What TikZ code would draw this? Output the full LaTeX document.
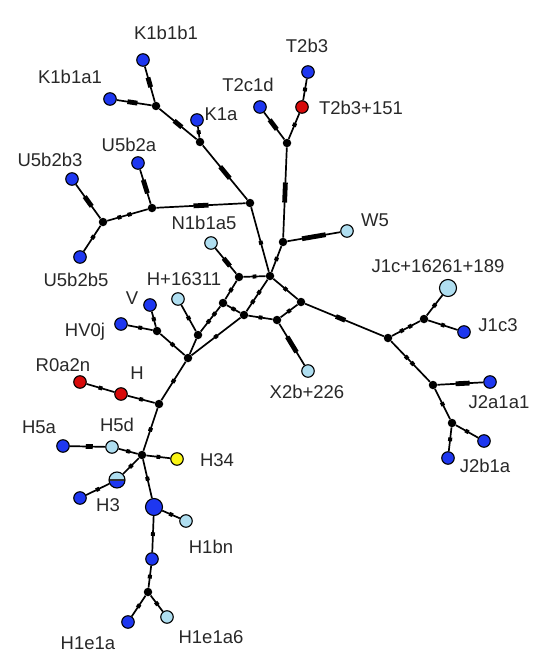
\documentclass[tikz,border=0pt]{standalone}
\usepackage{fontspec}
\setmainfont{Liberation Sans}
\definecolor{hblue}{RGB}{30,55,240}
\definecolor{hlight}{RGB}{175,222,240}
\definecolor{hred}{RGB}{215,10,10}
\definecolor{hyellow}{RGB}{250,245,20}
\definecolor{ltext}{RGB}{40,40,40}
\tikzset{
  hap/.style={circle, draw=black, line width=1.1pt, minimum size=12.5pt, inner sep=0pt},
  bl/.style={hap, fill=hblue},
  lb/.style={hap, fill=hlight},
  rd/.style={hap, fill=hred},
  yl/.style={hap, fill=hyellow},
  bigger/.style={minimum size=17pt},
  mv/.style={circle, fill=black, minimum size=8.5pt, inner sep=0pt},
  lbl/.style={font=\fontsize{18.5}{21}\selectfont, text=ltext, inner sep=0pt},
  edge/.style={line width=1.7pt},
  tk/.style={sloped, fill=black, inner sep=0pt, minimum width=3.8pt, minimum height=4pt},
  cl/.style={sloped, fill=black, inner sep=0pt, minimum width=#1, minimum height=4.8pt},
}
\begin{document}
\begin{tikzpicture}[x=1pt,y=-1pt]
\useasboundingbox (0,0) rectangle (533,666);
% haplotype nodes
\node[bl] (k1b1b1) at (143,60) {};
\node[bl] (k1b1a1) at (110,99) {};
\node[bl] (k1a) at (197,120) {};
\node[bl] (u5b2a) at (138,163) {};
\node[bl] (u5b2b3) at (72,179) {};
\node[bl] (u5b2b5) at (80,257) {};
\node[bl] (t2c1d) at (260,107) {};
\node[bl] (t2b3) at (308,72) {};
\node[rd] (t2b3x) at (302,107) {};
\node[lb] (w5) at (347,231) {};
\node[lb] (n1b1a5) at (211,243) {};
\node[lb] (h16311) at (178,299) {};
\node[bl] (v) at (150,305) {};
\node[bl] (hv0j) at (121,324) {};
\node[rd] (r0a2n) at (80,382) {};
\node[rd] (h) at (121,394) {};
\node[lb] (x2b) at (308,371) {};
\node[lb, bigger] (j1cx) at (448,288) {};
\node[bl] (j1c3) at (464,332) {};
\node[bl] (j2a1a1) at (490,382) {};
\node[bl] (j2r) at (484,441) {};
\node[bl] (j2b1a) at (448,458) {};
\node[bl] (h5a) at (63,446) {};
\node[lb] (h5d) at (112,447) {};
\node[yl] (h34) at (177,459) {};
\node[hap, bigger, minimum size=16pt, fill=hblue,
  path picture={\fill[hlight] (path picture bounding box.west) rectangle (path picture bounding box.north east);
  \draw[line width=1.3pt, black!80] (path picture bounding box.west) -- (path picture bounding box.east);}] (h3) at (117,480) {};
\node[bl] (h3b) at (80,498) {};
\node[bl, bigger] (h1) at (154,507) {};
\node[lb] (h1bn) at (186,521) {};
\node[bl] (h1m) at (152,559) {};
\node[bl] (h1e1a) at (128,622) {};
\node[lb] (h1e1a6) at (167,617) {};
% median vectors
\node[mv] (jk) at (156,106) {};
\node[mv] (j2) at (200,142) {};
\node[mv] (j5) at (103,222) {};
\node[mv] (j6) at (152,208) {};
\node[mv] (j7) at (250,203) {};
\node[mv] (j3) at (287,143) {};
\node[mv] (j4) at (283,242) {};
\node[mv] (hub) at (270,276) {};
\node[mv] (j8) at (239,277) {};
\node[mv] (j12) at (223,303) {};
\node[mv] (j13) at (244,315) {};
\node[mv] (j14) at (277,320) {};
\node[mv] (j16) at (301,302) {};
\node[mv] (j17) at (388,338) {};
\node[mv] (j18) at (424,319) {};
\node[mv] (j19) at (433,385) {};
\node[mv] (j20) at (452,423) {};
\node[mv] (j11) at (198,335) {};
\node[mv] (j10) at (157,331) {};
\node[mv] (j15) at (188,358) {};
\node[mv] (j21) at (159,404) {};
\node[mv] (j22) at (142,455) {};
\node[mv] (j23) at (148,592) {};
% labels
\node[lbl] (lk1b1b1) at (166,33) {K1b1b1};
\node[lbl] (lk1b1a1) at (70,77) {K1b1a1};
\node[lbl] (lk1a) at (221,114) {K1a};
\node[lbl] (lt2c1d) at (248,85) {T2c1d};
\node[lbl] (lt2b3) at (307,46) {T2b3};
\node[lbl] (lt2b3x) at (361,108) {T2b3+151};
\node[lbl] (lu5b2a) at (129,145) {U5b2a};
\node[lbl] (lu5b2b3) at (50,160) {U5b2b3};
\node[lbl] (lu5b2b5) at (76,280) {U5b2b5};
\node[lbl] (ln1b1a5) at (204,223) {N1b1a5};
\node[lbl] (lw5) at (375,220) {W5};
\node[lbl] (lh16311) at (184,279) {H+16311};
\node[lbl] (lv) at (132,298) {V};
\node[lbl] (lhv0j) at (85,332) {HV0j};
\node[lbl] (lr0a2n) at (63,365) {R0a2n};
\node[lbl] (lh) at (137,373) {H};
\node[lbl] (lx2b) at (307,392) {X2b+226};
\node[lbl] (lj1cx) at (438,266) {J1c+16261+189};
\node[lbl] (lj1c3) at (498,325) {J1c3};
\node[lbl] (lj2a1a1) at (499,402) {J2a1a1};
\node[lbl] (lj2b1a) at (485,466) {J2b1a};
\node[lbl] (lh5a) at (39,427) {H5a};
\node[lbl] (lh5d) at (117,425) {H5d};
\node[lbl] (lh34) at (217,460) {H34};
\node[lbl] (lh3) at (108,505) {H3};
\node[lbl] (lh1bn) at (211,547) {H1bn};
\node[lbl] (lh1e1a) at (88,643) {H1e1a};
\node[lbl] (lh1e1a6) at (211,637) {H1e1a6};
% edges
\draw[edge] (k1b1b1) -- (jk) node[cl=10pt, pos=0.45] {};
\draw[edge] (k1b1a1) -- (jk) node[cl=10pt, pos=0.45] {};
\draw[edge] (jk) -- (j2) node[cl=10pt, pos=0.5] {};
\draw[edge] (k1a) -- (j2) node[tk, pos=0.5] {};
\draw[edge] (j2) -- (j7) node[cl=15pt, pos=0.5] {};
\draw[edge] (u5b2a) -- (j6) node[cl=14pt, pos=0.5] {};
\draw[edge] (u5b2b3) -- (j5) node[cl=12pt, pos=0.5] {};
\draw[edge] (u5b2b5) -- (j5) node[tk, pos=0.55] {};
\draw[edge] (j5) -- (j6) node[tk, pos=0.3] {} node[tk, pos=0.55] {};
\draw[edge] (j6) -- (j7) node[cl=15pt, pos=0.5] {};
\draw[edge] (t2b3) -- (t2b3x) node[tk, pos=0.5] {};
\draw[edge] (t2b3x) -- (j3) node[tk, pos=0.45] {};
\draw[edge] (t2c1d) -- (j3) node[cl=12pt, pos=0.45] {};
\draw[edge] (j3) -- (j4) node[cl=20pt, pos=0.5] {};
\draw[edge] (j4) -- (w5) node[cl=24pt, pos=0.5] {};
\draw[edge] (j4) -- (hub) node[tk, pos=0.5] {};
\draw[edge] (j7) -- (hub) node[tk, pos=0.55] {};
\draw[edge] (n1b1a5) -- (j8) node[cl=10pt, pos=0.55] {};
\draw[edge] (j8) -- (hub) node[tk, pos=0.5] {};
\draw[edge] (j8) -- (j12) node[tk, pos=0.5] {};
\draw[edge] (j12) -- (j13) node[tk, pos=0.5] {};
\draw[edge] (hub) -- (j13) node[tk, pos=0.4] {} node[tk, pos=0.7] {};
\draw[edge] (hub) -- (j16) node[tk, pos=0.5] {};
\draw[edge] (j16) -- (j14) node[tk, pos=0.5] {};
\draw[edge] (j13) -- (j14) node[tk, pos=0.5] {};
\draw[edge] (j14) -- (x2b) node[cl=18pt, pos=0.5] {};
\draw[edge] (j16) -- (j17) node[cl=10pt, pos=0.45] {};
\draw[edge] (j17) -- (j18) node[tk, pos=0.35] {} node[tk, pos=0.65] {};
\draw[edge] (j18) -- (j1cx) node[tk, pos=0.5] {};
\draw[edge] (j18) -- (j1c3) node[tk, pos=0.5] {};
\draw[edge] (j17) -- (j19) node[tk, pos=0.4] {} node[tk, pos=0.55] {};
\draw[edge] (j19) -- (j2a1a1) node[cl=14pt, pos=0.55] {};
\draw[edge] (j19) -- (j20) node[tk, pos=0.5] {};
\draw[edge] (j20) -- (j2r) node[tk, pos=0.5] {};
\draw[edge] (j20) -- (j2b1a) node[tk, pos=0.5] {};
\draw[edge] (h16311) -- (j11) node[tk, pos=0.5] {};
\draw[edge] (j11) -- (j12) node[tk, pos=0.4] {} node[tk, pos=0.7] {};
\draw[edge] (j11) -- (j15);
\draw[edge] (j13) -- (j15) node[tk, pos=0.5] {};
\draw[edge] (v) -- (j10) node[tk, pos=0.5] {};
\draw[edge] (hv0j) -- (j10) node[tk, pos=0.5] {};
\draw[edge] (j10) -- (j15) node[tk, pos=0.5] {};
\draw[edge] (j15) -- (j21) node[tk, pos=0.5] {};
\draw[edge] (r0a2n) -- (h) node[tk, pos=0.5] {};
\draw[edge] (h) -- (j21) node[tk, pos=0.5] {};
\draw[edge] (j21) -- (j22) node[tk, pos=0.5] {};
\draw[edge] (h5a) -- (h5d) node[cl=7pt, pos=0.55] {};
\draw[edge] (h5d) -- (j22) node[tk, pos=0.5] {};
\draw[edge] (j22) -- (h34) node[tk, pos=0.5] {};
\draw[edge] (j22) -- (h3) node[tk, pos=0.5] {};
\draw[edge] (h3) -- (h3b) node[tk, pos=0.5] {};
\draw[edge] (j22) -- (h1) node[tk, pos=0.5] {};
\draw[edge] (h1) -- (h1bn) node[tk, pos=0.5] {};
\draw[edge] (h1) -- (h1m) node[tk, pos=0.5] {};
\draw[edge] (h1m) -- (j23) node[tk, pos=0.5] {};
\draw[edge] (j23) -- (h1e1a) node[tk, pos=0.5] {};
\draw[edge] (j23) -- (h1e1a6) node[tk, pos=0.5] {};
\end{tikzpicture}
\end{document}
